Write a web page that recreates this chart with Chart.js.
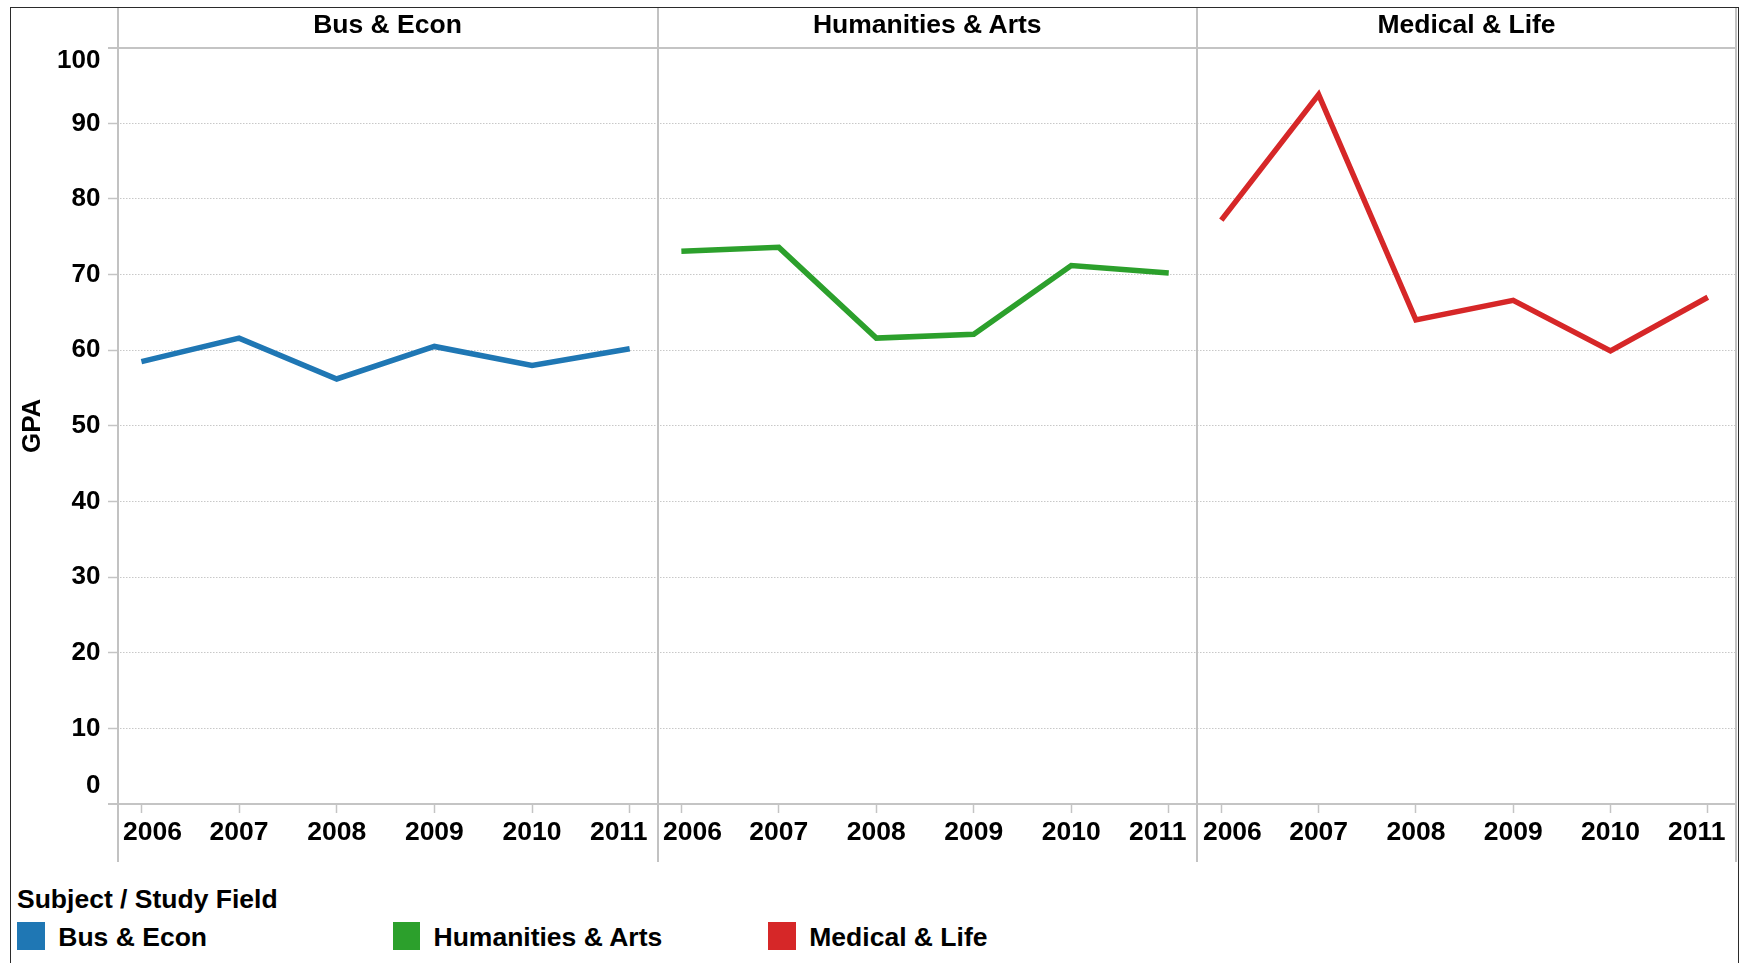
<!DOCTYPE html>
<html>
<head>
<meta charset="utf-8">
<script src="https://cdn.jsdelivr.net/npm/chart.js@4.4.1/dist/chart.umd.min.js"></script>
<style>
  html, body { margin:0; padding:0; background:#fff; overflow:hidden; }
  body { font-family: "Liberation Sans", Arial, sans-serif; color:#000; }
  #wrap { position:relative; width:1743px; height:963px; }
  .frame { position:absolute; left:10px; top:7px; width:1727px; height:980px;
           border-left:1.5px solid #2b2b2b; border-top:1.5px solid #2b2b2b; border-right:1.5px solid #2b2b2b; }
  .vline { position:absolute; top:8px; height:854px; width:2px; background:#c2c2c2; }
  .head { position:absolute; top:4px; height:41px; line-height:41px; text-align:center;
          font-weight:bold; font-size:26.5px; }
  canvas { position:absolute; top:0; }
  .legTitle { position:absolute; left:17px; top:884px; font-weight:bold; font-size:26.5px; line-height:30px; }
  .sw { position:absolute; top:922px; width:27.5px; height:27.5px; }
  .legTxt { position:absolute; top:921.5px; font-weight:bold; font-size:26.5px; line-height:30px; }
</style>
</head>
<body>
<div id="wrap">
  <div class="frame"></div>

  <canvas id="c0" width="658" height="870" style="left:0px"></canvas>
  <canvas id="c1" width="540" height="870" style="left:657px"></canvas>
  <canvas id="c2" width="539" height="870" style="left:1197px"></canvas>

  <div class="vline" style="left:116.5px"></div>
  <div class="vline" style="left:656.5px"></div>
  <div class="vline" style="left:1196px"></div>
  <div class="vline" style="left:1735px"></div>

  <div id="heads"></div>
  <div id="legend"></div>
</div>

<script>
/* ---------- data ---------- */
const years = [2006, 2007, 2008, 2009, 2010, 2011];
const fields = ["Bus & Econ", "Humanities & Arts", "Medical & Life"];
const fieldColors = ["#1f77b4", "#2ca02c", "#d62728"];

const busEcon    = [58.5, 61.6, 56.2, 60.5, 58.0, 60.2];
const humanities = [73.1, 73.6, 61.6, 62.1, 71.2, 70.2];
const medical    = [77.2, 93.8, 64.0, 66.6, 59.9, 67.0];
const series = [busEcon, humanities, medical];

const yTicks = [0, 10, 20, 30, 40, 50, 60, 70, 80, 90, 100];

/* ---------- panel layout ---------- */
const panelLeft = [117.5, 657.5, 1197];
const panelRight = [657.5, 1197, 1736];
const GRID = "#c8c8c8";
const AXIS = "#c4c4c4";

Chart.defaults.color = "#000";
Chart.defaults.font.family = '"Liberation Sans", Arial, sans-serif';
Chart.defaults.font.weight = "bold";

/* headers + legend as plain html */
const heads = document.getElementById("heads");
fields.forEach((f, i) => {
  const d = document.createElement("div");
  d.className = "head";
  d.style.left = panelLeft[i] + "px";
  d.style.width = (panelRight[i] - panelLeft[i]) + "px";
  d.textContent = f;
  heads.appendChild(d);
});

const legend = document.getElementById("legend");
legend.innerHTML = '<div class="legTitle">Subject / Study Field</div>';
const legX = [17.3, 392.5, 768.3];
fields.forEach((f, i) => {
  legend.innerHTML += `<div class="sw" style="left:${legX[i]}px;background:${fieldColors[i]}"></div>` +
                      `<div class="legTxt" style="left:${legX[i] + 41}px">${f.replace("&", "&amp;")}</div>`;
});

/* ---------- charts ---------- */
function makePanel(idx){
  const first = idx === 0;
  const ctx = document.getElementById("c" + idx).getContext("2d");
  return new Chart(ctx, {
    type: "line",
    data: {
      datasets: [{
        label: fields[idx],
        data: years.map((yr, i) => ({ x: yr, y: series[idx][i] })),
        borderColor: fieldColors[idx],
        borderWidth: 5.5,
        pointRadius: 0,
        tension: 0,
        borderJoinStyle: "miter",
        borderCapStyle: "butt",
        fill: false
      }]
    },
    options: {
      responsive: false,
      animation: false,
      events: [],
      layout: { padding: { top: 47.7, left: first ? 10 : 0, right: 0, bottom: 0 } },
      plugins: { legend: { display: false }, tooltip: { enabled: false } },
      scales: {
        x: {
          type: "linear",
          min: 2005.75,
          max: 2011.29,
          afterBuildTicks: s => { s.ticks = years.map(v => ({ value: v })); },
          afterFit: s => { s.height = 66; s.paddingLeft = 0; s.paddingRight = 0; },
          ticks: {
            autoSkip: false,
            maxRotation: 0,
            padding: 4,
            font: { size: 26.5, weight: "bold" },
            // first / last year are nudged inward like the original facet labels
            callback: v => v === years[0] ? "   " + v : (v === years[years.length - 1] ? v + "   " : String(v))
          },
          grid: { display: true, drawOnChartArea: false, drawTicks: true, tickLength: 9,
                  tickColor: AXIS, tickWidth: 1.5 },
          border: { display: false }
        },
        y: {
          min: 0,
          max: 100,
          afterBuildTicks: s => { s.ticks = yTicks.map(v => ({ value: v })); },
          afterFit: s => { s.width = first ? 107 : 0; s.paddingTop = 0; s.paddingBottom = 0; },
          title: {
            display: first,
            text: "GPA",
            font: { size: 26, weight: "bold" },
            padding: { top: 7, bottom: 0 }
          },
          ticks: {
            display: first,
            padding: 7.5,
            font: c => ({
              size: 26, weight: "bold",
              lineHeight: c.tick && c.tick.value === 100 ? "25.6px" : (c.tick && c.tick.value === 0 ? "35.6px" : 1.2)
            }),
            callback: v => v === 100 ? ["", "100"] : (v === 0 ? ["0", ""] : String(v))
          },
          grid: {
            drawTicks: first,
            tickLength: 9,
            color: c => (c.tick && (c.tick.value === 0 || c.tick.value === 100)) ? AXIS : GRID,
            lineWidth: c => (c.tick && (c.tick.value === 0 || c.tick.value === 100)) ? 2 : 1,
            tickColor: AXIS,
            tickWidth: c => (c.tick && (c.tick.value === 0 || c.tick.value === 100)) ? 2 : 1.5,
            tickBorderDash: []
          },
          border: {
            display: false,
            dash: c => (c.tick && (c.tick.value === 0 || c.tick.value === 100)) ? [] : [1.5, 1.5]
          }
        }
      }
    }
  });
}

[0, 1, 2].forEach(makePanel);
</script>
</body>
</html>
